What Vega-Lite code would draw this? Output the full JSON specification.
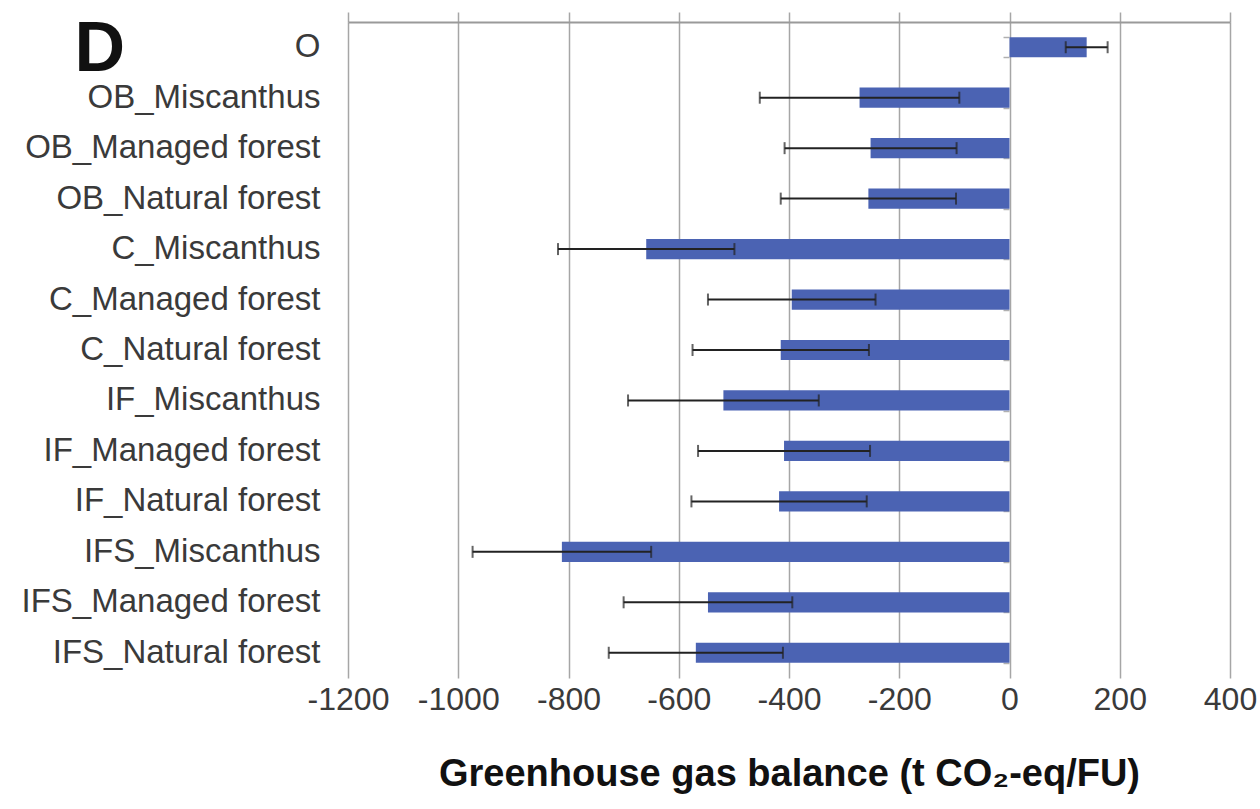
{
  "$schema": "https://vega.github.io/schema/vega-lite/v6.json",
  "width": 882,
  "height": 656,
  "autosize": {"type": "none"},
  "padding": {"left": 348, "top": 22, "right": 30, "bottom": 131},
  "background": "white",
  "config": {
    "view": {"stroke": null},
    "font": "Liberation Sans"
  },
  "data": {
    "values": [
      {"scenario": "O", "value": 140, "err": 38},
      {"scenario": "OB_Miscanthus", "value": -272, "err": 181},
      {"scenario": "OB_Managed forest", "value": -252, "err": 156},
      {"scenario": "OB_Natural forest", "value": -256, "err": 159},
      {"scenario": "C_Miscanthus", "value": -659, "err": 160},
      {"scenario": "C_Managed forest", "value": -395, "err": 152},
      {"scenario": "C_Natural forest", "value": -415, "err": 160},
      {"scenario": "IF_Miscanthus", "value": -519, "err": 173},
      {"scenario": "IF_Managed forest", "value": -409, "err": 156},
      {"scenario": "IF_Natural forest", "value": -418, "err": 159},
      {"scenario": "IFS_Miscanthus", "value": -812, "err": 162},
      {"scenario": "IFS_Managed forest", "value": -547, "err": 153},
      {"scenario": "IFS_Natural forest", "value": -569, "err": 158}
    ]
  },
  "resolve": {"axis": {"x": "independent", "y": "independent"}},
  "layer": [
    {
      "mark": {"type": "bar", "color": "#4b63b3"},
      "encoding": {
        "y": {
          "field": "scenario",
          "type": "nominal",
          "sort": null,
          "scale": {"paddingInner": 0.6, "paddingOuter": 0.3},
          "axis": {
            "orient": "left",
            "title": "D",
            "titleAngle": 0,
            "titleX": -274,
            "titleY": 48,
            "titleAlign": "left",
            "titleBaseline": "alphabetic",
            "titleFont": "Liberation Sans",
            "titleFontSize": 70,
            "titleFontWeight": "bold",
            "titleColor": "#111111",
            "domain": false,
            "ticks": false,
            "labelPadding": 28,
            "labelFont": "Liberation Sans",
            "labelFontSize": 33,
            "labelColor": "#3a3a3a",
            "labelLimit": 400
          }
        },
        "x": {
          "field": "value",
          "type": "quantitative",
          "scale": {"domain": [-1200, 400], "nice": false, "zero": false},
          "axis": {
            "orient": "bottom",
            "values": [-1200, -1000, -800, -600, -400, -200, 0, 200, 400],
            "labelExpr": "'' + datum.value",
            "labelOverlap": false,
            "labelBound": false,
            "labelFlush": false,
            "title": "Greenhouse gas balance (t CO₂-eq/FU)",
            "titleFont": "Liberation Sans",
            "titleFontSize": 38,
            "titleFontWeight": "bold",
            "titleColor": "#111111",
            "titlePadding": 40,
            "domain": false,
            "ticks": false,
            "grid": true,
            "gridColor": "#a6a6a6",
            "gridWidth": 1.5,
            "labelFont": "Liberation Sans",
            "labelFontSize": 32,
            "labelColor": "#3a3a3a",
            "labelPadding": 6
          }
        }
      }
    },
    {
      "mark": {
        "type": "errorbar",
        "ticks": {"size": 12, "thickness": 2, "color": "#222222"},
        "rule": {"strokeWidth": 2, "color": "#222222"}
      },
      "encoding": {
        "y": {
          "field": "scenario",
          "type": "nominal",
          "sort": null,
          "axis": {
            "orient": "left",
            "offset": -661,
            "title": null,
            "domain": false,
            "labels": false,
            "ticks": true,
            "tickBand": "extent",
            "tickSize": 6,
            "tickColor": "#b0b0b0",
            "tickWidth": 1.5
          }
        },
        "x": {
          "field": "value",
          "type": "quantitative",
          "axis": {
            "orient": "top",
            "values": [-1200, -1000, -800, -600, -400, -200, 0, 200, 400],
            "title": null,
            "labels": false,
            "grid": false,
            "domain": true,
            "domainColor": "#9a9a9a",
            "domainWidth": 2,
            "ticks": true,
            "tickSize": 10,
            "tickColor": "#a6a6a6",
            "tickWidth": 1.5
          }
        },
        "xError": {"field": "err"}
      }
    }
  ]
}
